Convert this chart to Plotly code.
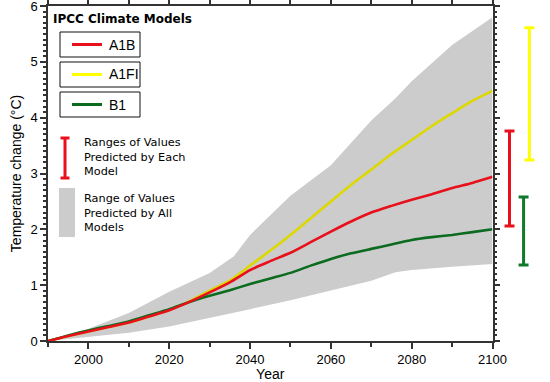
import plotly.graph_objects as go

# ---------------- data ----------------
years = [1990, 1995, 2000, 2005, 2010, 2015, 2020, 2025, 2030, 2035, 2040, 2045,
         2050, 2055, 2060, 2065, 2070, 2075, 2080, 2085, 2090, 2095, 2100]
a1b = [0, 0.09, 0.17, 0.25, 0.33, 0.44, 0.55, 0.70, 0.87, 1.05, 1.27, 1.43,
       1.58, 1.77, 1.96, 2.14, 2.30, 2.42, 2.53, 2.63, 2.74, 2.83, 2.94]
a1fi = [0, 0.09, 0.17, 0.25, 0.33, 0.44, 0.56, 0.71, 0.90, 1.08, 1.35, 1.62,
        1.90, 2.20, 2.50, 2.80, 3.07, 3.35, 3.60, 3.85, 4.08, 4.30, 4.48]
b1 = [0, 0.10, 0.19, 0.27, 0.35, 0.46, 0.57, 0.70, 0.81, 0.91, 1.02, 1.12,
      1.22, 1.35, 1.47, 1.57, 1.65, 1.73, 1.81, 1.86, 1.90, 1.95, 2.00]

band_years = [1990, 2000, 2010, 2020, 2030, 2036, 2040, 2050, 2060, 2070, 2076, 2080, 2090, 2100]
band_upper = [0, 0.22, 0.50, 0.88, 1.22, 1.52, 1.90, 2.60, 3.15, 3.95, 4.35, 4.65, 5.30, 5.80]
band_lower = [0, 0.08, 0.15, 0.26, 0.41, 0.50, 0.57, 0.73, 0.90, 1.08, 1.23, 1.27, 1.33, 1.38]

range_models = ["A1B", "B1", "A1FI"]
range_low = [2.06, 1.36, 3.24]
range_high = [3.76, 2.58, 5.61]

x_ticks = [2000, 2020, 2040, 2060, 2080, 2100]
y_ticks = [0, 1, 2, 3, 4, 5, 6]

each_text = ["Ranges of Values", "Predicted by Each", "Model"]
all_text = ["Range of Values", "Predicted by All", "Models"]

# ---------------- styles ----------------
RED = "#e8101a"
YEL_LINE = "#dcd800"
YEL = "#ffff00"
GRN = "#0b6b1f"
GRN_BAR = "#0f7a2c"
GRAY = "#cccccc"
TXT = "Liberation Sans"
VER = "DejaVu Sans"

W, H = 550, 382
L, R, T, B = 48, 8, 6, 41
PW = W - L - R
PH = H - T - B
PLOT_RIGHT = 492.5


def px(x):
    return (x - L) / PW


def py(y):
    return (H - B - y) / PH


fig = go.Figure()

# band
fig.add_trace(go.Scatter(x=band_years, y=band_lower, mode="lines", line=dict(width=0),
                         showlegend=False, hoverinfo="skip"))
fig.add_trace(go.Scatter(x=band_years, y=band_upper, mode="lines", line=dict(width=0),
                         fill="tonexty", fillcolor=GRAY, showlegend=False, hoverinfo="skip"))

for ys, c in [(a1fi, YEL_LINE), (b1, GRN), (a1b, RED)]:
    fig.add_trace(go.Scatter(x=years, y=ys, mode="lines",
                             line=dict(color=c, width=2.6, shape="spline", smoothing=0.6),
                             showlegend=False))

# range bars on the right
bar_pos = {"A1B": 0.33, "B1": 0.62, "A1FI": 0.74}
bar_col = {"A1B": RED, "B1": GRN_BAR, "A1FI": YEL}
for m, lo, hi in zip(range_models, range_low, range_high):
    fig.add_trace(go.Scatter(
        x=[bar_pos[m]], y=[lo], xaxis="x2", yaxis="y", mode="markers",
        marker=dict(size=1, color="rgba(0,0,0,0)"),
        error_y=dict(type="data", symmetric=False, array=[hi - lo], arrayminus=[0],
                     color=bar_col[m], thickness=3, width=5),
        showlegend=False, cliponaxis=False))

shapes = []
ann = []

# legend boxes
legend_items = [("A1B", RED, 32), ("A1FI", YEL, 62), ("B1", GRN, 92)]
for name, col, top in legend_items:
    shapes.append(dict(type="rect", xref="paper", yref="paper",
                       x0=px(60), x1=px(140), y0=py(top + 25), y1=py(top),
                       line=dict(color="#111111", width=1), fillcolor="white"))
    shapes.append(dict(type="line", xref="paper", yref="paper",
                       x0=px(72), x1=px(102), y0=py(top + 12.5), y1=py(top + 12.5),
                       line=dict(color=col, width=3)))
    ann.append(dict(text=name, xref="paper", yref="paper", x=px(107), y=py(top + 12.5),
                    xanchor="left", yanchor="middle", showarrow=False,
                    font=dict(family=TXT, size=14, color="black")))

ann.append(dict(text="<b>IPCC Climate Models</b>", xref="paper", yref="paper",
                x=px(51), y=py(19), xanchor="left", yanchor="middle", showarrow=False,
                font=dict(family=VER, size=12, color="black")))

# error-bar legend symbol
shapes.append(dict(type="line", xref="paper", yref="paper", x0=px(65), x1=px(65),
                   y0=py(138), y1=py(178), line=dict(color=RED, width=3)))
for yy in (138, 178):
    shapes.append(dict(type="line", xref="paper", yref="paper", x0=px(60.5), x1=px(69.5),
                       y0=py(yy), y1=py(yy), line=dict(color=RED, width=3)))
ann.append(dict(text="<br>".join(each_text), xref="paper", yref="paper",
                x=px(82), y=py(157.5), xanchor="left", yanchor="middle", align="left",
                showarrow=False, font=dict(family=VER, size=11.3, color="black")))

# gray legend symbol
shapes.append(dict(type="rect", xref="paper", yref="paper", x0=px(59), x1=px(75),
                   y0=py(237), y1=py(188), line=dict(width=0), fillcolor=GRAY))
ann.append(dict(text="<br>".join(all_text), xref="paper", yref="paper",
                x=px(82), y=py(212.5), xanchor="left", yanchor="middle", align="left",
                showarrow=False, font=dict(family=VER, size=11.3, color="black")))

axis_common = dict(showline=True, linecolor="#333333", linewidth=1.5, mirror="ticks",
                   ticks="outside", tickcolor="#333333", showgrid=False, zeroline=False,
                   automargin=False, ticklabeloverflow="allow",
                   tickfont=dict(family=TXT, size=13, color="black"))

fig.update_layout(
    width=W, height=H, margin=dict(l=L, r=R, t=T, b=B),
    paper_bgcolor="white", plot_bgcolor="white",
    xaxis=dict(range=[1990, 2100], domain=[0, (PLOT_RIGHT - L) / PW], tickvals=x_ticks,
               ticklen=6, tickwidth=1.5,
               minor=dict(dtick=10, tick0=1990, ticklen=4, ticks="outside", tickcolor="#333333"),
               title=dict(text="Year", font=dict(family=TXT, size=14, color="black"), standoff=2),
               anchor="y", **axis_common),
    xaxis2=dict(range=[0, 1], domain=[(PLOT_RIGHT - L) / PW + 0.002, 1], visible=False,
                anchor="y", fixedrange=True),
    yaxis=dict(range=[0, 6], tickvals=y_ticks, ticklen=6, tickwidth=1.5,
               minor=dict(dtick=0.1, ticklen=3, ticks="outside", tickcolor="#333333"),
               title=dict(text="Temperature change (°C)", font=dict(family=TXT, size=14, color="black"),
                          standoff=6),
               **axis_common),
    shapes=shapes, annotations=ann, showlegend=False,
)

fig.write_html("out.html", config={"displayModeBar": False},
               post_script="document.body.style.margin='0';document.body.style.padding='0';")
